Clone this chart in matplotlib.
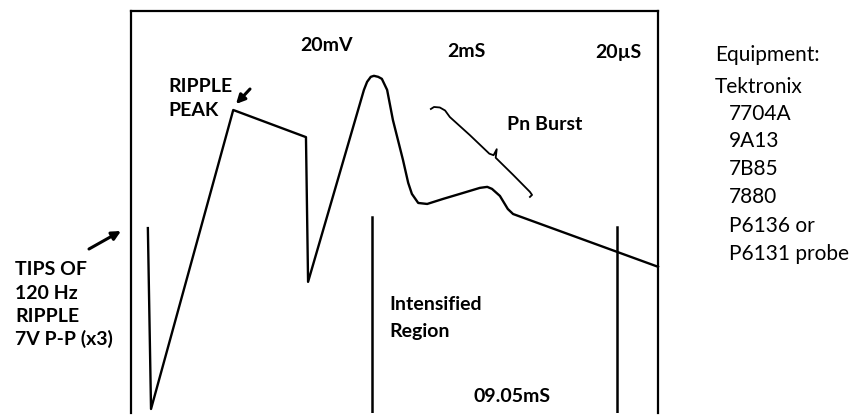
import matplotlib
matplotlib.use('Agg')
import matplotlib.pyplot as plt
from matplotlib.patches import FancyArrowPatch

# scope trace, in screen divisions (x: 0..10, y: 0..8)
trace_t = [0.32, 0.38, 1.94, 3.32, 3.36, 4.42, 4.48, 4.55, 4.61, 4.69, 4.76, 4.86, 4.97,
           5.16, 5.26, 5.33, 5.45, 5.62, 5.92, 6.24, 6.62, 6.76, 6.85, 7.00, 7.15, 7.25, 10.0]
trace_v = [3.68, 0.08, 6.03, 5.49, 2.61, 6.43, 6.59, 6.69, 6.71, 6.69, 6.65, 6.43, 5.83,
           5.04, 4.58, 4.36, 4.18, 4.16, 4.26, 4.36, 4.48, 4.50, 4.46, 4.32, 4.06, 3.96, 2.91]

# brace marking the Pn burst
burst_t = [5.69, 5.75, 5.86, 5.96, 6.05, 6.43, 6.80, 6.88, 6.94, 6.92, 7.25, 7.57, 7.61, 7.57]
burst_v = [6.05, 6.09, 6.08, 6.02, 5.89, 5.53, 5.16, 5.13, 5.25, 5.08, 4.74, 4.40, 4.34, 4.30]

# intensified region markers
marker_t = [4.57, 9.22]
marker_top = [3.90, 3.71]

scale_labels = ['20mV', '2mS', '20µS']
equipment = ['Equipment:', 'Tektronix', '7704A', '9A13', '7B85', '7880', 'P6136 or', 'P6131 probe']

W, H = 867, 415
plt.rcParams['font.family'] = ['Lato', 'DejaVu Sans']

fig = plt.figure(figsize=(W / 100, H / 100), dpi=100)
ax = fig.add_axes([131 / W, 2 / H, 527 / W, 402 / H])
ax.set_xlim(0, 10)
ax.set_ylim(0, 8)
ax.set_xticks([])
ax.set_yticks([])
ax.spines['bottom'].set_visible(False)
for s in ('left', 'top', 'right'):
    ax.spines[s].set_linewidth(1.6)


def fp(x, y):
    # pixel position -> figure fraction
    return x / W, 1 - y / H


ax.plot(trace_t, trace_v, color='black', lw=1.7, solid_joinstyle='round', clip_on=False)
ax.plot(burst_t, burst_v, color='black', lw=1.3, solid_joinstyle='round')
for t, top in zip(marker_t, marker_top):
    ax.plot([t, t], [top, -0.2], color='black', lw=1.8)

bold = dict(fontsize=14, fontweight='bold', va='baseline', ha='left')

for lab, x, y in zip(scale_labels, [300, 447, 595], [51, 57, 58]):
    fig.text(*fp(x, y), lab, **bold)

fig.text(*fp(168, 92), 'RIPPLE', **bold)
fig.text(*fp(168, 116), 'PEAK', **bold)
arrow_kw = dict(arrowstyle='-|>', color='black', lw=2.2, mutation_scale=13, shrinkA=0, shrinkB=0)
fig.add_artist(FancyArrowPatch(fp(250, 89), fp(236, 104), transform=fig.transFigure, **arrow_kw))

tips = ['TIPS OF', '120 Hz', 'RIPPLE', '7V P-P (x3)']
for line, y in zip(tips, [275, 299, 322, 345]):
    fig.text(*fp(15, y), line, **bold)
fig.add_artist(FancyArrowPatch(fp(89, 249), fp(121, 231), transform=fig.transFigure, **arrow_kw))

fig.text(*fp(389, 310), 'Intensified', **bold)
fig.text(*fp(389, 337), 'Region', **bold)
fig.text(*fp(473, 402), '09.05mS', **bold)
fig.text(*fp(507, 130), 'Pn Burst', **bold)

eq_y = [61, 93, 120, 147, 175, 203, 232, 260]
for i, (line, y) in enumerate(zip(equipment, eq_y)):
    x = 715 if i < 2 else 729
    fig.text(*fp(x, y), line, fontsize=15, va='baseline', ha='left')

fig.savefig('out.png', dpi=100)
